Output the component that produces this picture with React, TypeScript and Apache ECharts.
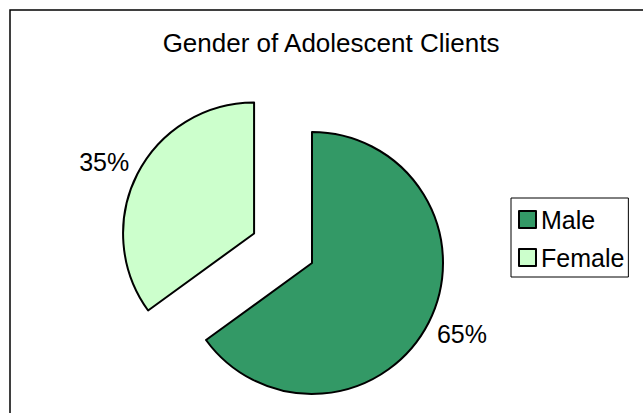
import React, { useEffect, useRef } from "react";
import * as echarts from "echarts";

const titleText = "Gender of Adolescent Clients";
const categories = ["Male", "Female"];
const values = [65, 35];
const colors = ["#339966", "#CCFFCC"];
const explodedIndex = 1;

const FONT = "'Liberation Sans', Arial, sans-serif";

export default function App() {
  const ref = useRef<HTMLDivElement>(null);
  useEffect(() => {
    if (!ref.current) return;
    const chart = echarts.init(ref.current, undefined, { renderer: "svg" });
    const data = categories.map((name, i) => ({
      name,
      value: values[i],
      selected: i === explodedIndex,
      itemStyle: { color: colors[i] },
    }));
    chart.setOption({
      animation: false,
      backgroundColor: "#ffffff",
      title: {
        text: titleText,
        left: 326,
        textAlign: "center",
        top: 25,
        textStyle: { fontFamily: FONT, fontSize: 26, fontWeight: "normal", color: "#000" },
      },
      legend: {
        orient: "vertical",
        left: 511,
        top: 198,
        data: categories,
        icon: "rect",
        itemWidth: 17,
        itemHeight: 17,
        itemGap: 13,
        padding: [9, 4, 7, 7],
        borderColor: "#000",
        borderWidth: 1,
        selectedMode: false,
        itemStyle: { borderColor: "#000", borderWidth: 2 },
        textStyle: { fontFamily: FONT, fontSize: 25, color: "#000", padding: [0, 0, 0, 0] },
      },
      graphic: [
        {
          type: "rect",
          shape: { x: 10, y: 10, width: 640, height: 410 },
          style: { fill: "none", stroke: "#000", lineWidth: 1.5 },
          silent: true,
        },
      ],
      series: [
        {
          type: "pie",
          center: [312, 263],
          radius: 131,
          startAngle: 90,
          clockwise: true,
          selectedMode: "single",
          selectedOffset: 65,
          avoidLabelOverlap: false,
          data,
          itemStyle: { borderColor: "#000", borderWidth: 2 },
          label: {
            show: true,
            position: "outside",
            formatter: "{d}%",
            fontFamily: FONT,
            fontSize: 25,
            color: "#000",
          },
          labelLine: { show: false, length: 26, length2: -20 },
          emphasis: { disabled: true },
          select: { itemStyle: { borderColor: "#000", borderWidth: 2 } },
        },
      ],
    });
    return () => chart.dispose();
  }, []);
  return (
    <div
      ref={ref}
      style={{ position: "absolute", left: 0, top: 0, width: 643, height: 413, background: "#fff" }}
    />
  );
}
